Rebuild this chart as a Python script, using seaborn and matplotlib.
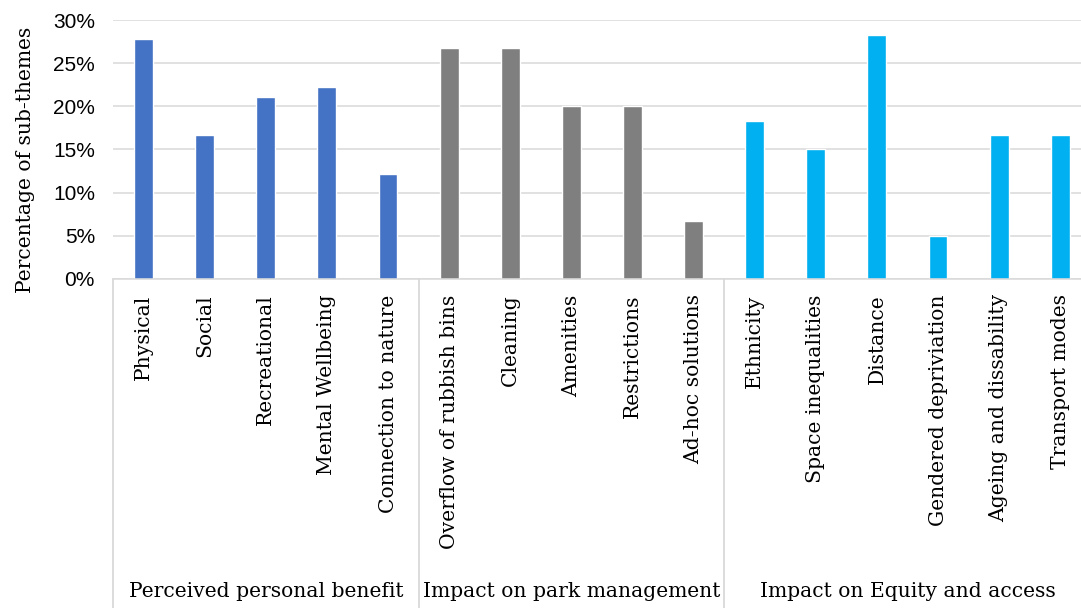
import numpy as np
import pandas as pd
import matplotlib
matplotlib.use("Agg")
import matplotlib.pyplot as plt
import matplotlib.transforms as mtransforms
from matplotlib.ticker import PercentFormatter
import seaborn as sns

# Chart data (percent of sub-themes)
categories = ["Physical", "Social", "Recreational", "Mental Wellbeing", "Connection to nature",
              "Overflow of rubbish bins", "Cleaning", "Amenities", "Restrictions", "Ad-hoc solutions",
              "Ethnicity", "Space inequalities", "Distance", "Gendered depriviation",
              "Ageing and dissability", "Transport modes"]
values = [27.8, 16.7, 21.1, 22.2, 12.2,
          26.7, 26.7, 20.0, 20.0, 6.7,
          18.3, 15.0, 28.3, 5.0, 16.7, 16.7]
group_names = ["Perceived personal benefit", "Impact on park management", "Impact on Equity and access"]
group_sizes = [5, 5, 6]
group_colors = ["#4472C4", "#7F7F7F", "#00B0F0"]
y_ticks = [0, 5, 10, 15, 20, 25, 30]

groups = [g for g, n in zip(group_names, group_sizes) for _ in range(n)]
df = pd.DataFrame({"category": categories, "value": values, "group": groups})

sns.set_style("white")
plt.rcParams["text.color"] = "black"
plt.rcParams["xtick.color"] = "black"
plt.rcParams["ytick.color"] = "black"
plt.rcParams["axes.labelcolor"] = "black"
serif = ["DejaVu Serif"]
sans = ["Liberation Sans", "DejaVu Sans"]

fig = plt.figure(figsize=(10.81, 6.08), dpi=100)
ax = fig.add_axes([113 / 1081, 1 - 279 / 608, 1 - 113 / 1081, 259 / 608])

sns.barplot(data=df, x="category", y="value", hue="group", palette=group_colors,
            dodge=False, width=0.31, legend=False, ax=ax, saturation=1)

ax.set_ylim(0, 30)
ax.set_xlim(-0.5, 15.34)
ax.set_yticks(y_ticks)
ax.yaxis.set_major_formatter(PercentFormatter(decimals=0))
ax.grid(axis="y", color="#D9D9D9", linewidth=1.1)
ax.set_axisbelow(True)
for s in ["top", "right", "left"]:
    ax.spines[s].set_visible(False)
ax.spines["bottom"].set_color("#D9D9D9")
ax.spines["bottom"].set_linewidth(1.1)

ax.tick_params(axis="y", length=0, pad=13)
ax.tick_params(axis="x", length=0, pad=11)
for lab in ax.get_yticklabels():
    lab.set_fontfamily(sans)
    lab.set_fontsize(15)
ax.set_xticks(range(len(categories)))
ax.set_xticklabels(categories, rotation=90, fontfamily=serif, fontsize=14.6, va="top")

ax.set_xlabel("")
ax.set_ylabel("Percentage of sub-themes", fontfamily=serif, fontsize=14.6)
ax.yaxis.set_label_coords(-(113 - 35) / 968, (279 - 160) / 259)

# group separators and group labels
trans = mtransforms.blended_transform_factory(ax.transData, ax.transAxes)
start = 0
for name, n in zip(group_names, group_sizes):
    ax.plot([start - 0.5, start - 0.5], [0, -1.3], transform=trans, color="#D9D9D9",
            linewidth=1.3, clip_on=False)
    center = start + (n - 1) / 2
    ax.text(center, -1.208, name, transform=trans, ha="center", va="center",
            fontfamily=serif, fontsize=14.6)
    start += n

fig.savefig("out.png", dpi=100)
